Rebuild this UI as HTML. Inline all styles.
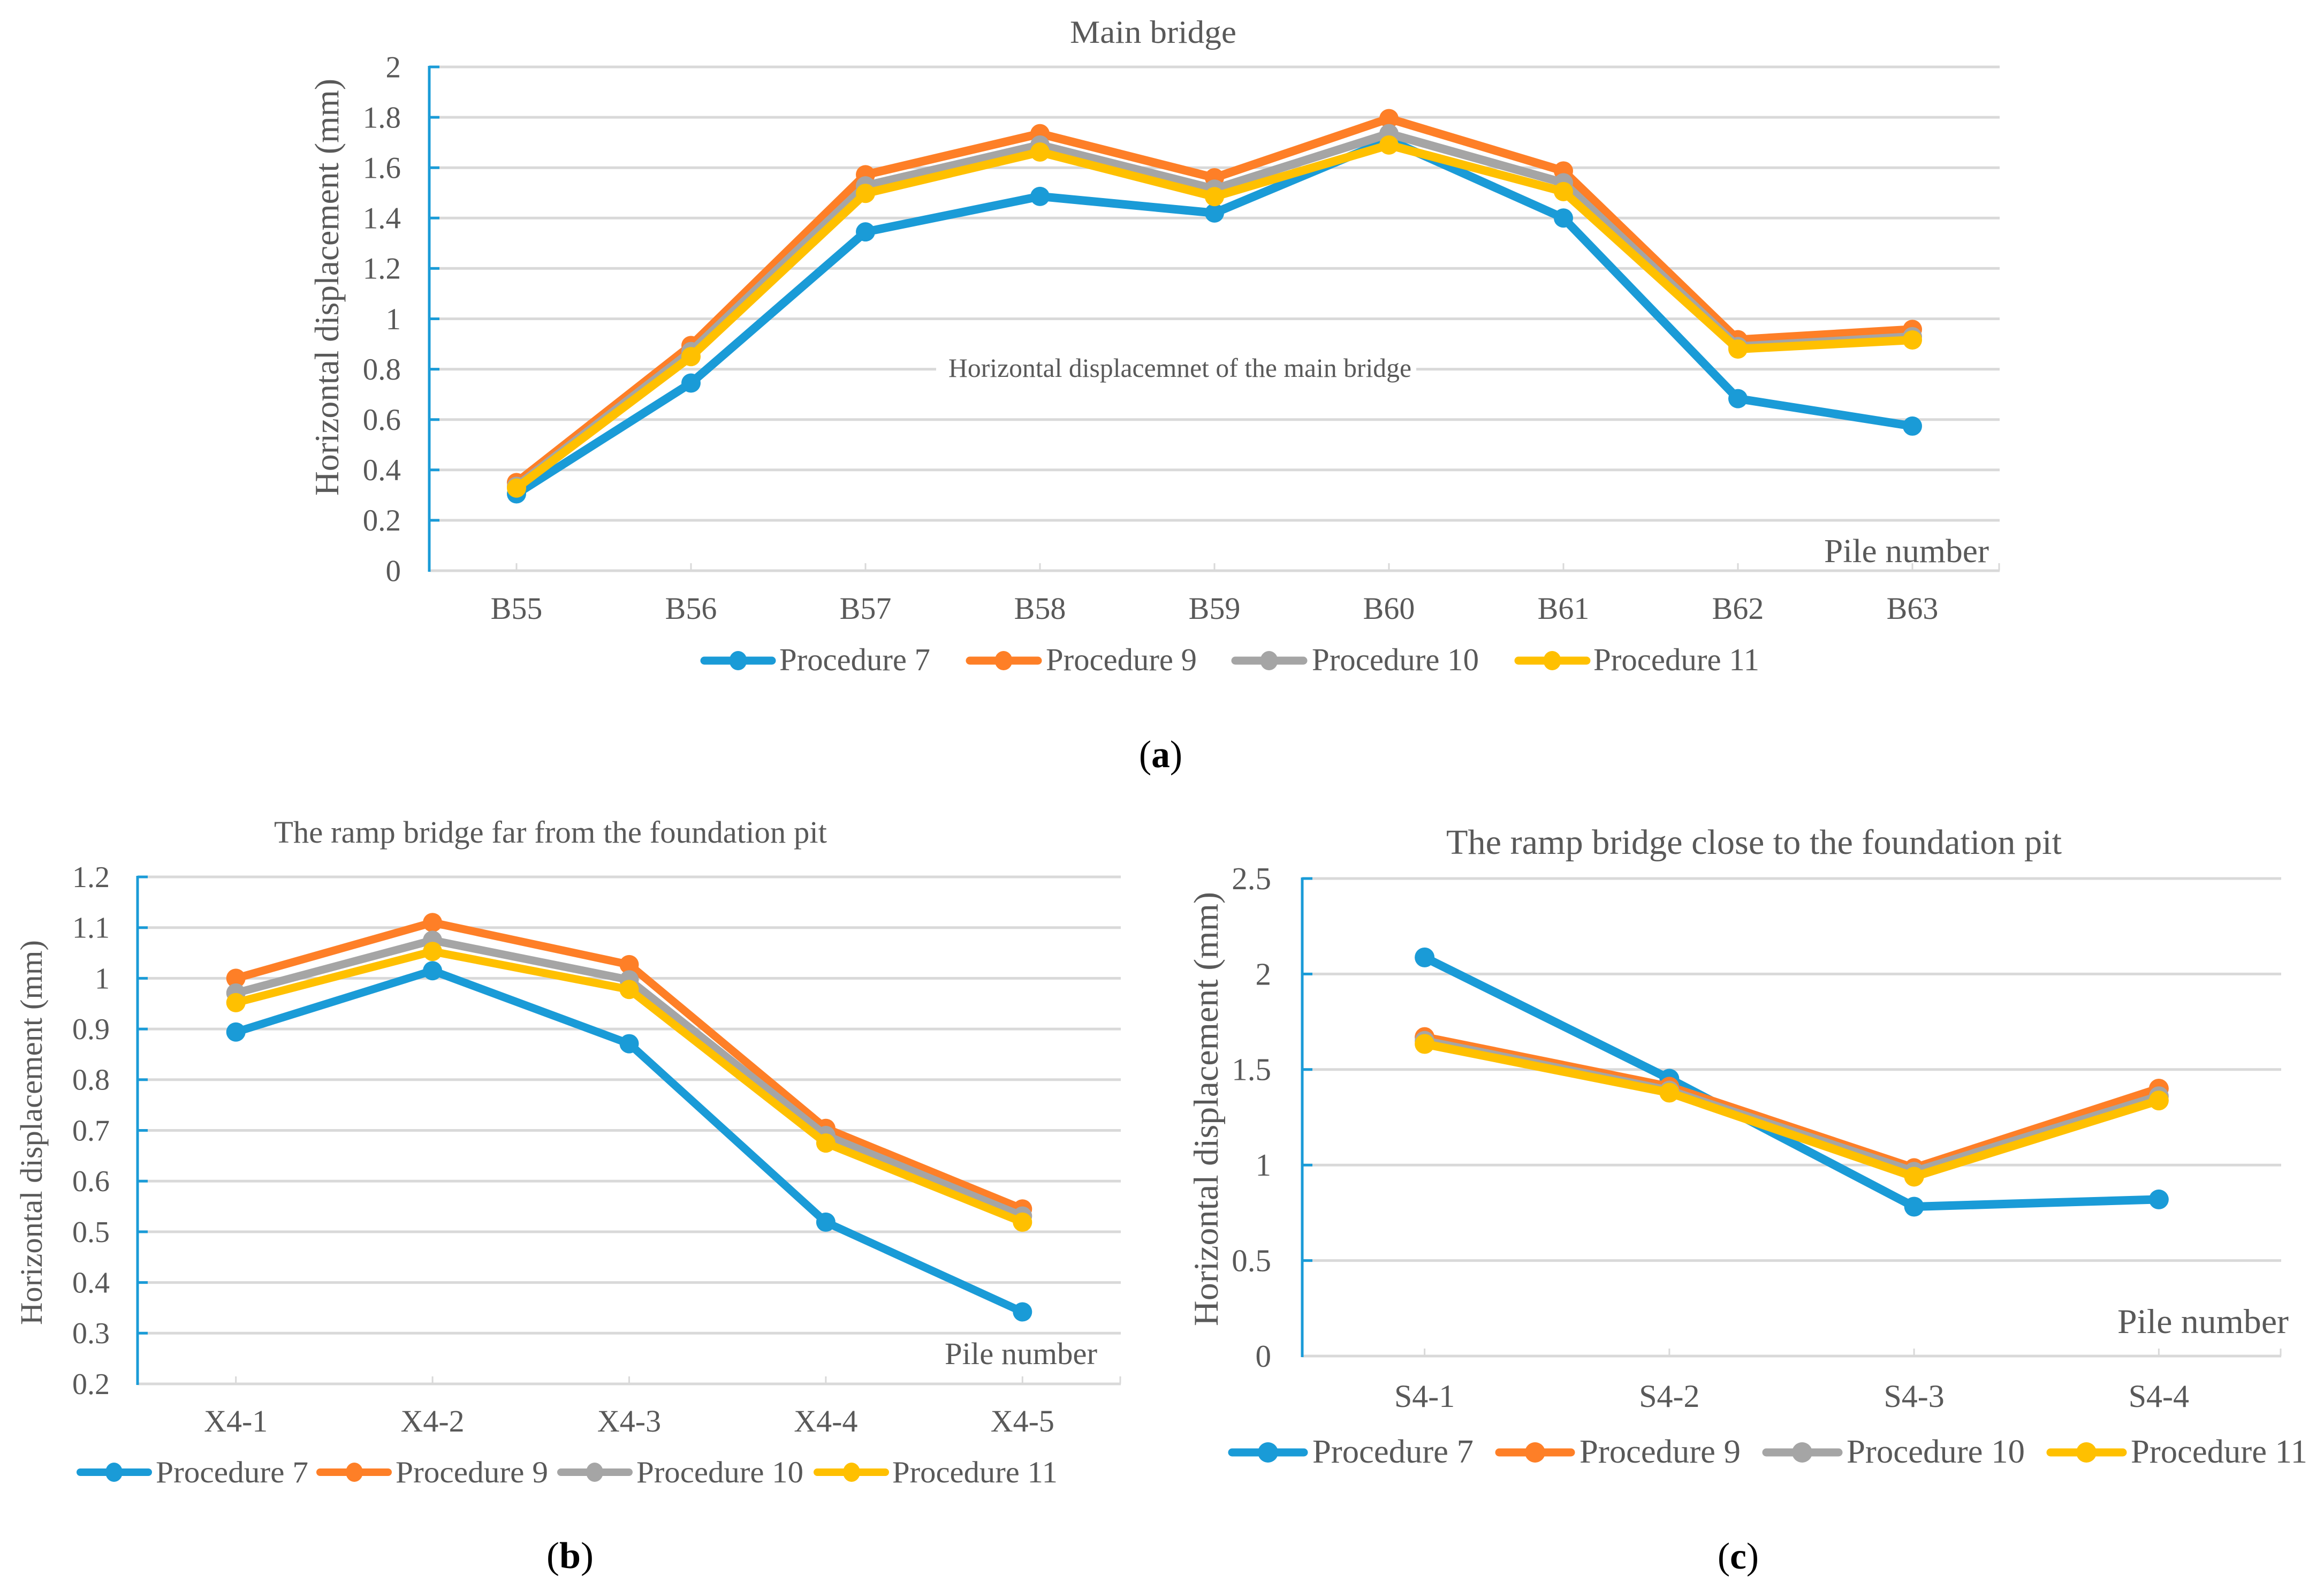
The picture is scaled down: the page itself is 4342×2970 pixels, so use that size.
<!DOCTYPE html>
<html lang="en">
<head>
<meta charset="utf-8">
<title>Horizontal displacement of bridge piles</title>
<style>
html,body{margin:0;padding:0;background:#fff;}
svg{display:block;}
text{font-family:"Liberation Serif",serif;fill:#595959;}
.cap{fill:#000;}
</style>
</head>
<body>
<svg xmlns="http://www.w3.org/2000/svg" width="4342" height="2970" viewBox="0 0 4342 2970">
<rect width="4342" height="2970" fill="#ffffff"/>

<!-- Chart A -->
<g>
  <text x="1999" y="80" font-size="60" textLength="311" lengthAdjust="spacingAndGlyphs">Main bridge</text>
  <text transform="translate(632,926) rotate(-90)" font-size="64" textLength="779" lengthAdjust="spacingAndGlyphs">Horizontal displacement (mm)</text>
  <g id="a-grid"></g>
  <rect x="1749" y="680" width="897" height="40" fill="#ffffff"/>
  <text x="1772" y="704" font-size="50" textLength="865" lengthAdjust="spacingAndGlyphs">Horizontal displacemnet of the main bridge</text>
  <text x="3408" y="1050" font-size="62" textLength="308" lengthAdjust="spacingAndGlyphs">Pile number</text>
  <g id="a-series"></g>
  <g>
    <g>
      <line x1="1316" x2="1442" y1="1234" y2="1234" stroke="#1a9bd7" stroke-width="15" stroke-linecap="round"/><ellipse cx="1379" cy="1234" rx="16.5" ry="18" fill="#1a9bd7"/>
      <text x="1456" y="1252" font-size="59" textLength="282" lengthAdjust="spacingAndGlyphs">Procedure 7</text>
    </g>
    <g>
      <line x1="1812" x2="1939" y1="1234" y2="1234" stroke="#fe7f27" stroke-width="15" stroke-linecap="round"/><ellipse cx="1875" cy="1234" rx="16.5" ry="18" fill="#fe7f27"/>
      <text x="1954" y="1252" font-size="59" textLength="282" lengthAdjust="spacingAndGlyphs">Procedure 9</text>
    </g>
    <g>
      <line x1="2308" x2="2435" y1="1234" y2="1234" stroke="#a5a5a5" stroke-width="15" stroke-linecap="round"/><ellipse cx="2371" cy="1234" rx="16.5" ry="18" fill="#a5a5a5"/>
      <text x="2451" y="1252" font-size="59" textLength="312" lengthAdjust="spacingAndGlyphs">Procedure 10</text>
    </g>
    <g>
      <line x1="2837" x2="2964" y1="1234" y2="1234" stroke="#ffc000" stroke-width="15" stroke-linecap="round"/><ellipse cx="2900" cy="1234" rx="16.5" ry="18" fill="#ffc000"/>
      <text x="2977" y="1252" font-size="59" textLength="310" lengthAdjust="spacingAndGlyphs">Procedure 11</text>
    </g>
  </g>
  <text x="2128" y="1433" font-size="72" textLength="81" lengthAdjust="spacingAndGlyphs" class="cap">(<tspan font-weight="bold" class="cap">a</tspan>)</text>
</g>

<!-- Chart B -->
<g>
  <text x="512" y="1574" font-size="58" textLength="1033" lengthAdjust="spacingAndGlyphs">The ramp bridge far from the foundation pit</text>
  <text transform="translate(78,2475) rotate(-90)" font-size="58" textLength="719" lengthAdjust="spacingAndGlyphs">Horizontal displacement (mm)</text>
  <g id="b-grid"></g>
  <text x="1765" y="2548" font-size="58" textLength="285" lengthAdjust="spacingAndGlyphs">Pile number</text>
  <g id="b-series"></g>
  <g>
    <g>
      <line x1="150" x2="277" y1="2750" y2="2750" stroke="#1a9bd7" stroke-width="14" stroke-linecap="round"/><ellipse cx="213" cy="2750" rx="16" ry="18" fill="#1a9bd7"/>
      <text x="291" y="2769" font-size="57" textLength="285" lengthAdjust="spacingAndGlyphs">Procedure 7</text>
    </g>
    <g>
      <line x1="598" x2="725" y1="2750" y2="2750" stroke="#fe7f27" stroke-width="14" stroke-linecap="round"/><ellipse cx="662" cy="2750" rx="16" ry="18" fill="#fe7f27"/>
      <text x="739" y="2769" font-size="57" textLength="285" lengthAdjust="spacingAndGlyphs">Procedure 9</text>
    </g>
    <g>
      <line x1="1048" x2="1175" y1="2750" y2="2750" stroke="#a5a5a5" stroke-width="14" stroke-linecap="round"/><ellipse cx="1111" cy="2750" rx="16" ry="18" fill="#a5a5a5"/>
      <text x="1189" y="2769" font-size="57" textLength="312" lengthAdjust="spacingAndGlyphs">Procedure 10</text>
    </g>
    <g>
      <line x1="1527" x2="1654" y1="2750" y2="2750" stroke="#ffc000" stroke-width="14" stroke-linecap="round"/><ellipse cx="1591" cy="2750" rx="16" ry="18" fill="#ffc000"/>
      <text x="1667" y="2769" font-size="57" textLength="309" lengthAdjust="spacingAndGlyphs">Procedure 11</text>
    </g>
  </g>
  <text x="1021" y="2929" font-size="70" textLength="88" lengthAdjust="spacingAndGlyphs" class="cap">(<tspan font-weight="bold" class="cap">b</tspan>)</text>
</g>

<!-- Chart C -->
<g>
  <text x="2702" y="1595" font-size="66" textLength="1150" lengthAdjust="spacingAndGlyphs">The ramp bridge close to the foundation pit</text>
  <text transform="translate(2275,2477) rotate(-90)" font-size="65" textLength="811" lengthAdjust="spacingAndGlyphs">Horizontal displacement (mm)</text>
  <g id="c-grid"></g>
  <text x="3956" y="2490" font-size="65" textLength="320" lengthAdjust="spacingAndGlyphs">Pile number</text>
  <g id="c-series"></g>
  <g>
    <g>
      <line x1="2302" x2="2436" y1="2713" y2="2713" stroke="#1a9bd7" stroke-width="15" stroke-linecap="round"/><circle cx="2369" cy="2713" r="19" fill="#1a9bd7"/>
      <text x="2452" y="2732" font-size="62" textLength="301" lengthAdjust="spacingAndGlyphs">Procedure 7</text>
    </g>
    <g>
      <line x1="2801" x2="2935" y1="2713" y2="2713" stroke="#fe7f27" stroke-width="15" stroke-linecap="round"/><circle cx="2868" cy="2713" r="19" fill="#fe7f27"/>
      <text x="2951" y="2732" font-size="62" textLength="301" lengthAdjust="spacingAndGlyphs">Procedure 9</text>
    </g>
    <g>
      <line x1="3300" x2="3435" y1="2713" y2="2713" stroke="#a5a5a5" stroke-width="15" stroke-linecap="round"/><circle cx="3367" cy="2713" r="19" fill="#a5a5a5"/>
      <text x="3450" y="2732" font-size="62" textLength="333" lengthAdjust="spacingAndGlyphs">Procedure 10</text>
    </g>
    <g>
      <line x1="3831" x2="3966" y1="2713" y2="2713" stroke="#ffc000" stroke-width="15" stroke-linecap="round"/><circle cx="3898" cy="2713" r="19" fill="#ffc000"/>
      <text x="3981" y="2732" font-size="62" textLength="330" lengthAdjust="spacingAndGlyphs">Procedure 11</text>
    </g>
  </g>
  <text x="3209" y="2930" font-size="70" textLength="77" lengthAdjust="spacingAndGlyphs" class="cap">(<tspan font-weight="bold" class="cap">c</tspan>)</text>
</g>
</svg>

<script>
// Chart A: main bridge
var aCategories = ['B55','B56','B57','B58','B59','B60','B61','B62','B63'];
var aTicks = ['0','0.2','0.4','0.6','0.8','1','1.2','1.4','1.6','1.8','2'];
var aProc7  = [0.305,0.745,1.345,1.486,1.42,1.71,1.40,0.683,0.574];
var aProc9  = [0.35,0.894,1.572,1.735,1.56,1.795,1.587,0.917,0.958];
var aProc10 = [0.335,0.87,1.528,1.69,1.515,1.735,1.54,0.89,0.929];
var aProc11 = [0.328,0.85,1.498,1.662,1.485,1.69,1.505,0.88,0.916];

// Chart B: ramp bridge far from the foundation pit
var bCategories = ['X4-1','X4-2','X4-3','X4-4','X4-5'];
var bTicks = ['0.2','0.3','0.4','0.5','0.6','0.7','0.8','0.9','1','1.1','1.2'];
var bProc7  = [0.894,1.015,0.871,0.519,0.342];
var bProc9  = [1.0,1.11,1.027,0.704,0.545];
var bProc10 = [0.971,1.075,0.997,0.69,0.531];
var bProc11 = [0.952,1.053,0.978,0.675,0.519];

// Chart C: ramp bridge close to the foundation pit
var cCategories = ['S4-1','S4-2','S4-3','S4-4'];
var cTicks = ['0','0.5','1','1.5','2','2.5'];
var cProc7  = [2.087,1.452,0.782,0.82];
var cProc9  = [1.67,1.41,0.984,1.40];
var cProc10 = [1.65,1.39,0.965,1.36];
var cProc11 = [1.634,1.379,0.939,1.338];

var seriesNames = ['procedure-7','procedure-9','procedure-10','procedure-11'];
var seriesColors = ['#1a9bd7','#fe7f27','#a5a5a5','#ffc000'];
var NS = 'http://www.w3.org/2000/svg';

function mk(tag, attrs, parent) {
  var el = document.createElementNS(NS, tag);
  for (var k in attrs) { el.setAttribute(k, attrs[k]); }
  parent.appendChild(el);
  return el;
}

function drawChart(id, cats, ticks, series, o) {
  var grid = document.getElementById(id + '-grid');
  var sg = document.getElementById(id + '-series');
  var yMin = parseFloat(ticks[0]);
  var yMax = parseFloat(ticks[ticks.length - 1]);
  var band = (o.right - o.left) / cats.length;
  function xScale(i) { return o.left + band * (i + 0.5); }
  function yScale(v) { return o.bottom - (v - yMin) / (yMax - yMin) * (o.bottom - o.top); }

  ticks.forEach(function (t) {
    var v = parseFloat(t);
    var y = yScale(v);
    var gl = mk('line', {x1: o.left, x2: o.right, y1: y, y2: y, stroke: '#d9d9d9', 'stroke-width': 5}, grid);
    
    
    if (v !== yMin) {
      var tk = mk('line', {x1: o.left, x2: o.left + 19, y1: y, y2: y, stroke: '#1a9bd7', 'stroke-width': 5}, grid);
      
      
    }
    var lb = mk('text', {x: o.left - o.yLabelGap, y: y + o.yFont * 0.338, 'font-size': o.yFont, 'text-anchor': 'end'}, grid);
    lb.textContent = t;
    
    
  });

  var ax = mk('line', {x1: o.left, x2: o.left, y1: o.top - 2, y2: o.bottom + 2, stroke: '#1a9bd7', 'stroke-width': 5}, grid);
  
  

  cats.forEach(function (c, i) {
    var x = xScale(i);
    var tk = mk('line', {x1: x, x2: x, y1: o.bottom - 14, y2: o.bottom, stroke: '#d9d9d9', 'stroke-width': 3}, grid);
    
    
    var lb = mk('text', {x: x, y: o.xLabelY, 'font-size': o.xFont, 'text-anchor': 'middle'}, grid);
    lb.textContent = c;
    
    
  });
  var endTick = mk('line', {x1: o.right - 1, x2: o.right - 1, y1: o.bottom - 14, y2: o.bottom, stroke: '#d9d9d9', 'stroke-width': 3}, grid);
  
  

  series.forEach(function (vals, s) {
    var g = mk('g', {}, sg);
    
    
    var pts = vals.map(function (v, i) { return xScale(i) + ',' + yScale(v); }).join(' ');
    var pl = mk('polyline', {points: pts, fill: 'none', stroke: seriesColors[s], 'stroke-width': o.lineWidth, 'stroke-linejoin': 'round', 'stroke-linecap': 'round'}, g);
    
    
    vals.forEach(function (v, i) {
      var pt = mk('circle', {cx: xScale(i), cy: yScale(v), r: o.marker, fill: seriesColors[s]}, g);
      
      
    });
  });
}

drawChart('a', aCategories, aTicks, [aProc7, aProc9, aProc10, aProc11],
  {left: 802, right: 3736, top: 125, bottom: 1066, yFont: 57, yLabelGap: 53, xFont: 58, xLabelY: 1156, lineWidth: 16, marker: 18});
drawChart('b', bCategories, bTicks, [bProc7, bProc9, bProc10, bProc11],
  {left: 257, right: 2094, top: 1638, bottom: 2585, yFont: 56, yLabelGap: 52, xFont: 58, xLabelY: 2674, lineWidth: 15, marker: 18});
drawChart('c', cCategories, cTicks, [cProc7, cProc9, cProc10, cProc11],
  {left: 2433, right: 4262, top: 1641, bottom: 2533, yFont: 59, yLabelGap: 58, xFont: 60, xLabelY: 2628, lineWidth: 16, marker: 18.5});
</script>
</body>
</html>
